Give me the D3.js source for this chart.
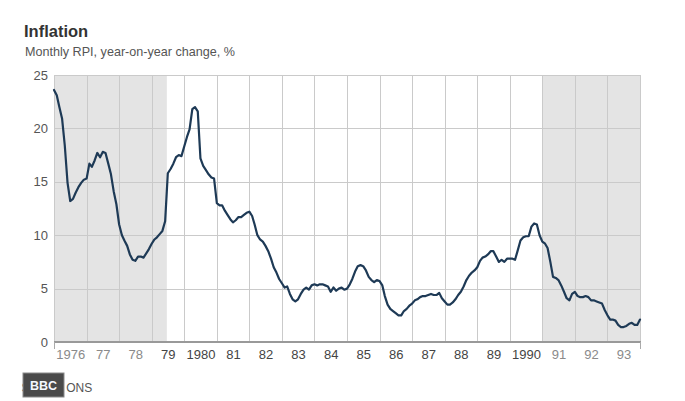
<!DOCTYPE html>
<html>
<head>
<meta charset="utf-8">
<script src="https://cdn.jsdelivr.net/npm/d3@7"></script>
<style>
  html, body { margin: 0; padding: 0; background: #ffffff; }
  svg { display: block; font-family: "Liberation Sans", Arial, Helvetica, sans-serif; }
</style>
</head>
<body>
<svg id="chart" width="685" height="401"></svg>
<script>
// ---- Data (monthly RPI, year-on-year change, %) ----
const years = [1976,1977,1978,1979,1980,1981,1982,1983,1984,1985,1986,1987,1988,1989,1990,1991,1992,1993,1994];
const rpi1976 = [23.6, 23.1, 22.0, 20.9, 18.4, 14.9, 13.2, 13.4, 14.0, 14.5, 14.9, 15.2];
const rpi1977 = [15.3, 16.7, 16.4, 17.0, 17.7, 17.3, 17.8, 17.7, 16.7, 15.7, 14.1, 12.9];
const rpi1978 = [11.0, 10.0, 9.5, 9.0, 8.2, 7.7, 7.6, 8.0, 8.0, 7.9, 8.3, 8.7];
const rpi1979 = [9.2, 9.6, 9.8, 10.1, 10.4, 11.3, 15.8, 16.2, 16.7, 17.3, 17.5, 17.4];
const rpi1980 = [18.3, 19.2, 19.9, 21.8, 22.0, 21.6, 17.2, 16.5, 16.1, 15.7, 15.4, 15.3];
const rpi1981 = [13.0, 12.8, 12.8, 12.3, 11.9, 11.5, 11.2, 11.4, 11.7, 11.7, 11.9, 12.1];
const rpi1982 = [12.2, 11.8, 11.0, 10.0, 9.6, 9.4, 9.0, 8.5, 7.8, 7.0, 6.5, 5.9];
const rpi1983 = [5.5, 5.1, 5.2, 4.5, 4.0, 3.8, 4.0, 4.5, 4.9, 5.1, 4.9, 5.3];
const rpi1984 = [5.4, 5.3, 5.4, 5.4, 5.3, 5.2, 4.7, 5.1, 4.8, 5.0, 5.1, 4.9];
const rpi1985 = [5.0, 5.4, 5.9, 6.6, 7.1, 7.2, 7.1, 6.7, 6.1, 5.8, 5.6, 5.8];
const rpi1986 = [5.7, 5.3, 4.3, 3.5, 3.1, 2.9, 2.7, 2.5, 2.5, 2.9, 3.1, 3.4];
const rpi1987 = [3.6, 3.9, 4.0, 4.2, 4.3, 4.3, 4.4, 4.5, 4.4, 4.4, 4.6, 4.1];
const rpi1988 = [3.8, 3.5, 3.5, 3.7, 4.0, 4.4, 4.7, 5.2, 5.8, 6.2, 6.5, 6.7];
const rpi1989 = [7.0, 7.6, 7.9, 8.0, 8.2, 8.5, 8.5, 8.0, 7.5, 7.7, 7.5, 7.8];
const rpi1990 = [7.8, 7.8, 7.7, 8.6, 9.5, 9.8, 9.9, 9.9, 10.8, 11.1, 11.0, 10.0];
const rpi1991 = [9.4, 9.2, 8.8, 7.5, 6.1, 6.0, 5.8, 5.3, 4.7, 4.1, 3.9, 4.5];
const rpi1992 = [4.7, 4.3, 4.2, 4.2, 4.3, 4.2, 3.9, 3.9, 3.8, 3.7, 3.6, 3.0];
const rpi1993 = [2.5, 2.1, 2.1, 2.0, 1.6, 1.4, 1.4, 1.5, 1.7, 1.8, 1.6, 1.6];
const rpi1994 = [2.1];
const yearlySeries = [rpi1976, rpi1977, rpi1978, rpi1979, rpi1980, rpi1981, rpi1982, rpi1983, rpi1984,
  rpi1985, rpi1986, rpi1987, rpi1988, rpi1989, rpi1990, rpi1991, rpi1992, rpi1993, rpi1994];

// x-axis labels (placed mid-year)
const tickYears  = [1976,1977,1978,1979,1980,1981,1982,1983,1984,1985,1986,1987,1988,1989,1990,1991,1992,1993];
const tickLabels = ["1976","77","78","79","1980","81","82","83","84","85","86","87","88","89","1990","91","92","93"];
const yTicks = [0, 5, 10, 15, 20, 25];

// shaded periods
const shadeStart = ["1976-01-01", "1990-12-31"];
const shadeEnd   = ["1979-06-20", "1994-01-01"];

// ---- Build ----
(function () {
const parse = d3.timeParse("%Y-%m-%d");
const data = [];
yearlySeries.forEach((arr, i) => arr.forEach((v, m) => data.push({ date: new Date(years[i], m, 1), value: v })));
const shades = shadeStart.map((s, i) => ({ start: parse(s), end: parse(shadeEnd[i]) }));

const svg = d3.select("#chart");
const pLeft = 54, pRight = 640, pTop = 75, pBottom = 342;

const x = d3.scaleTime().domain([new Date(1976, 0, 1), new Date(1994, 0, 1)]).range([pLeft, pRight]);
const y = d3.scaleLinear().domain([0, 25]).range([pBottom, pTop]);

svg.append("rect").attr("width", 685).attr("height", 401).attr("fill", "#ffffff");

// title
svg.append("text").attr("x", 24).attr("y", 37)
  .attr("font-size", 16.5).attr("font-weight", "bold").attr("fill", "#333")
  .text("Inflation");
svg.append("text").attr("x", 25).attr("y", 56)
  .attr("font-size", 12.6).attr("fill", "#555")
  .text("Monthly RPI, year-on-year change, %");

// shading
svg.append("g").selectAll("rect").data(shades).join("rect")
  .attr("x", d => x(d.start)).attr("y", pTop)
  .attr("width", d => x(d.end) - x(d.start)).attr("height", pBottom - pTop)
  .attr("fill", "#e4e4e4");

// gridlines
const grid = svg.append("g").attr("stroke", "#cacaca").attr("stroke-width", 1);
grid.selectAll("line.h").data(yTicks).join("line").attr("class", "h")
  .attr("x1", pLeft).attr("x2", pRight)
  .attr("y1", d => Math.round(y(d)) + 0.5).attr("y2", d => Math.round(y(d)) + 0.5);
const yearLines = d3.range(1976, 1995).map(yr => new Date(yr, 0, 1));
grid.selectAll("line.v").data(yearLines).join("line").attr("class", "v")
  .attr("x1", d => Math.round(x(d)) + 0.5).attr("x2", d => Math.round(x(d)) + 0.5)
  .attr("y1", pTop).attr("y2", pBottom);

// y axis labels
const yAxis = d3.axisLeft(y).tickValues(yTicks).tickSize(0).tickPadding(0).tickFormat(d3.format("d"));
const gy = svg.append("g").attr("transform", `translate(${pLeft - 6},0)`).call(yAxis);
gy.select(".domain").remove();
gy.selectAll("text").attr("font-size", 13).attr("fill", "#555")
  .attr("font-family", "Liberation Sans, Arial, sans-serif");

// x axis
const inShade = d => shades.some(s => d >= s.start && d <= s.end);
const midYears = tickYears.map(yr => new Date(yr, 6, 1));
const xAxis = d3.axisBottom(x).tickValues(midYears).tickSize(0).tickPadding(0)
  .tickFormat((d, i) => tickLabels[i]);
const gx = svg.append("g").attr("transform", `translate(0,${pBottom + 8})`).call(xAxis);
gx.select(".domain").remove();
gx.selectAll("text").attr("font-size", 13)
  .attr("font-family", "Liberation Sans, Arial, sans-serif")
  .attr("fill", d => inShade(d) ? "#8a8a8a" : "#444");

// base line and end ticks
svg.append("line").attr("x1", pLeft).attr("x2", pRight + 1).attr("y1", pBottom).attr("y2", pBottom)
  .attr("stroke", "#999").attr("stroke-width", 2);
svg.append("g").selectAll("line").data([new Date(1976, 0, 1), new Date(1994, 0, 1)]).join("line")
  .attr("x1", d => Math.round(x(d)) + 0.5).attr("x2", d => Math.round(x(d)) + 0.5)
  .attr("y1", pBottom).attr("y2", pBottom + 7)
  .attr("stroke", "#aaa").attr("stroke-width", 1);

// data line
const line = d3.line().x(d => x(d.date)).y(d => y(d.value));
svg.append("path").datum(data)
  .attr("d", line).attr("fill", "none")
  .attr("stroke", "#1e3a56").attr("stroke-width", 2.2)
  .attr("stroke-linejoin", "round").attr("stroke-linecap", "round");

// footer
svg.append("text").attr("x", 21.5).attr("y", 392).attr("font-size", 12).attr("fill", "#555")
  .text("Source: ONS");
svg.append("rect").attr("x", 23).attr("y", 373).attr("width", 41).attr("height", 24)
  .attr("fill", "#4a4a4a").attr("stroke", "#8a8a8a").attr("stroke-width", 1);
svg.append("text").attr("x", 43.5).attr("y", 389.5).attr("text-anchor", "middle")
  .attr("font-size", 12.5).attr("font-weight", "bold").attr("fill", "#f4f8ff")
  .text("BBC");
})();
</script>
</body>
</html>
